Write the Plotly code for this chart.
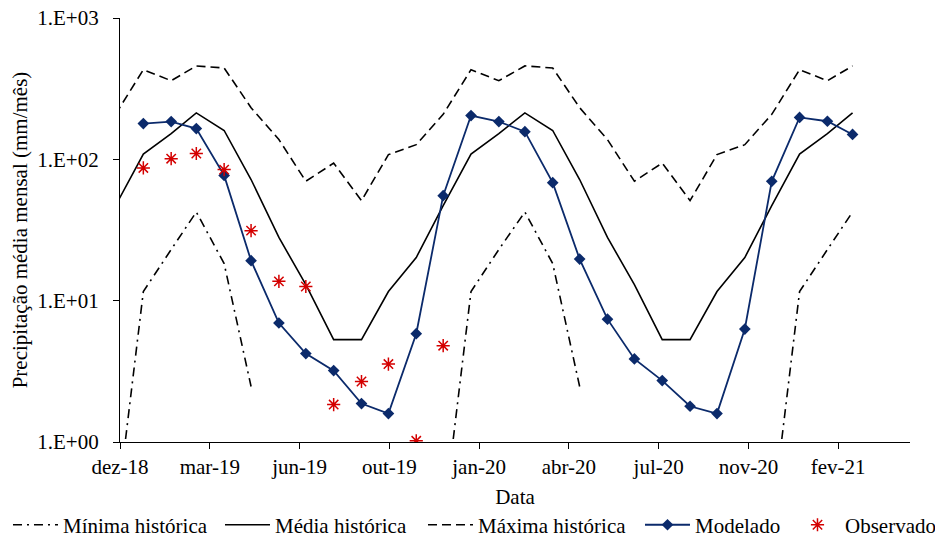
import pandas as pd
import plotly.graph_objects as go

# Monthly dates (first day of month)
hist_dates = pd.date_range("2018-12-01", "2021-03-01", freq="MS")   # 28 months
model_dates = pd.date_range("2019-01-01", "2021-03-01", freq="MS")  # 27 months
obs_dates = pd.date_range("2019-01-01", "2019-12-01", freq="MS")    # 12 months

minima = [0.27, 11.6, 23, 42.4, 18.3, 2.47, None, None, None, None, None, None,
          0.27, 11.6, 23, 42.4, 18.3, 2.47, None, None, None, None, None, None,
          0.27, 11.6, 23, 42.4]
media = [47, 109, 152, 213, 160, 72, 28, 13, 5.3, 5.3, 11.6, 20.2,
         47, 109, 152, 213, 160, 72, 28, 13, 5.3, 5.3, 11.6, 20.2,
         47, 109, 152, 213]
maxima = [208, 431, 360, 458, 443, 232, 138, 70, 94, 51, 108, 127,
          208, 431, 360, 458, 443, 232, 138, 70, 94, 51, 108, 127,
          208, 431, 360, 458]
modelado = [179, 185, 165, 77, 19.2, 6.95, 4.22, 3.2, 1.87, 1.59, 5.84, 55.3,
            204, 185, 157, 68.4, 19.7, 7.4, 3.87, 2.72, 1.79, 1.59, 6.3, 69.9,
            198, 186, 150]
observado = [86.9, 101, 110, 84.6, 31.3, 13.7, 12.6, 1.84, 2.68, 3.56, 1.02, 4.8]

x_tick_labels = ["dez-18", "mar-19", "jun-19", "out-19", "jan-20", "abr-20",
                 "jul-20", "nov-20", "fev-21"]
y_tick_values = [1, 10, 100, 1000]
y_tick_labels = ["1.E+00", "1.E+01", "1.E+02", "1.E+03"]

axis_start = pd.Timestamp("2018-12-06")
axis_end = axis_start + pd.Timedelta(days=880)
tick_dates = [axis_start + pd.Timedelta(days=100 * i) for i in range(len(x_tick_labels))]

FONT = "Liberation Serif, Times New Roman, serif"
FS = 21
BLACK = "#000000"
NAVY = "#0b2a6b"
RED = "#d40000"

fig = go.Figure()
fig.add_trace(go.Scatter(x=hist_dates, y=minima, mode="lines", name="Mínima histórica",
                         line=dict(color=BLACK, width=1.6, dash="9px,5px,2px,5px"),
                         connectgaps=False, legendwidth=152))
fig.add_trace(go.Scatter(x=hist_dates, y=media, mode="lines", name="Média histórica",
                         line=dict(color=BLACK, width=1.6), legendwidth=143))
fig.add_trace(go.Scatter(x=hist_dates, y=maxima, mode="lines", name="Máxima histórica",
                         line=dict(color=BLACK, width=1.6, dash="9px,5px"), legendwidth=157))
fig.add_trace(go.Scatter(x=model_dates, y=modelado, mode="lines+markers", name="Modelado",
                         line=dict(color=NAVY, width=1.8),
                         marker=dict(symbol="diamond", size=9, color=NAVY), legendwidth=90))
fig.add_trace(go.Scatter(x=obs_dates, y=observado, mode="markers", name="Observado",
                         marker=dict(symbol="asterisk-open", size=11, color=RED,
                                     line=dict(color=RED, width=1.5)), legendwidth=92))

fig.update_layout(
    width=935, height=530,
    margin=dict(l=112, r=0, t=10, b=96, autoexpand=False),
    paper_bgcolor="white", plot_bgcolor="white",
    font=dict(family=FONT, size=FS, color=BLACK),
    showlegend=True,
    legend=dict(orientation="h", xref="paper", yref="paper",
                x=-0.1361, xanchor="left", y=-0.196, yanchor="middle",
                font=dict(family=FONT, size=FS, color=BLACK),
                itemwidth=45, tracegroupgap=0, bgcolor="rgba(0,0,0,0)",
                entrywidthmode="pixels"),
)
fig.update_xaxes(
    type="date", range=[axis_start, axis_end], domain=[0, 790 / 823],
    tickmode="array", tickvals=tick_dates, ticktext=x_tick_labels,
    showline=True, linecolor=BLACK, linewidth=1.3, mirror=False,
    ticks="outside", ticklen=6, tickcolor=BLACK, tickwidth=1.3,
    ticklabelstandoff=0,
    showgrid=False, zeroline=False,
    tickfont=dict(family=FONT, size=FS, color=BLACK),
    title=dict(text="Data", font=dict(family=FONT, size=FS, color=BLACK), standoff=10),
)
fig.update_yaxes(
    type="log", range=[0, 3],
    tickmode="array", tickvals=y_tick_values, ticktext=y_tick_labels,
    showline=True, linecolor=BLACK, linewidth=1.3,
    ticks="outside", ticklen=6, tickcolor=BLACK, tickwidth=1.3,
    ticklabelstandoff=10, ticklabeloverflow="allow",
    showgrid=False, zeroline=False,
    tickfont=dict(family=FONT, size=FS, color=BLACK),
    title=dict(text="Precipitação média mensal (mm/mês)",
               font=dict(family=FONT, size=FS, color=BLACK), standoff=6),
)

fig.write_html("out.html")
